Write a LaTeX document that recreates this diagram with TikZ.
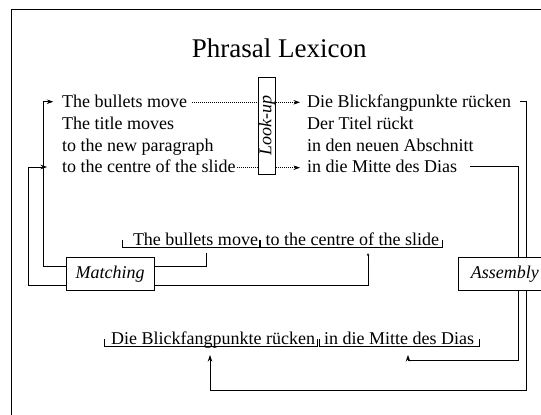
\documentclass[tikz,border=0pt]{standalone}
\usepackage{fontspec}
\setmainfont{Liberation Serif}
\usetikzlibrary{calc,arrows.meta}
\newcommand\brk[3]{\draw[brkline] ($(#1.base west)+(-#2,-5)$) -- ($(#1.base west)+(-#2,2)$) -- ($(#1.base east)+(#3,2)$) -- ($(#1.base east)+(#3,-5)$);}
\begin{document}
\begin{tikzpicture}[x=1pt,y=-1pt,
  txt/.style={font=\fontsize{18}{21.8}\selectfont, inner sep=0pt, anchor=base west},
  lbl/.style={draw, fill=white, line width=0.7pt, font=\fontsize{18}{21.8}\selectfont\itshape, inner sep=0pt},
  wire/.style={line width=0.7pt},
  brkline/.style={line width=0.6pt},
  dots/.style={line width=0.6pt, dash pattern=on 1pt off 1pt},
  tip/.style={-{Stealth[length=6.5pt,width=4.5pt]}},
  smalltip/.style={-{Stealth[length=3pt,width=2.5pt]}}
  ]
\useasboundingbox (0,0) rectangle (541,415);
\clip (0,0) rectangle (541,415);
\draw[line width=0.8pt] (11,9) rectangle (600,460);

\node[font=\fontsize{27}{32}\selectfont, anchor=base, inner sep=0pt] (title) at (279.3,57) {Phrasal Lexicon};

\node[txt] (l1) at (62,107.3) {The bullets move};
\node[txt] (l2) at (62,129.3) {The title moves};
\node[txt] (l3) at (62,151) {to the new paragraph};
\node[txt] (l4) at (62,172.7) {to the centre of the slide};

\node[txt] (r1) at (307,107.3) {Die Blickfangpunkte rücken};
\node[txt] (r2) at (307,129.3) {Der Titel rückt};
\node[txt] (r3) at (307,151) {in den neuen Abschnitt};
\node[txt] (r4) at (307,172.7) {in die Mitte des Dias};

\node[draw, line width=0.7pt, rotate=90, minimum width=97pt, minimum height=17.4pt, inner sep=0pt,
      font=\fontsize{18}{21.8}\selectfont\itshape] (lookup) at (267,125.8) {Look-up};

\node[txt] (m1) at (132.8,245) {The bullets move};
\node[txt] (m2) at (265.5,245) {to the centre of the slide};
\brk{m1}{10.4}{1}
\brk{m2}{5.2}{3}

\node[txt] (b1) at (111,344) {Die Blickfangpunkte rücken};
\node[txt] (b2) at (324,344) {in die Mitte des Dias};
\brk{b1}{6.9}{1.5}
\brk{b2}{4.3}{4.5}

% look-up dotted arrows
\coordinate (d1) at ($(l1.base east)+(5,-5)$);
\coordinate (d4) at ($(l4.base east)+(1,-5)$);
\draw[dots] (d1) -- (lookup.north |- d1);
\draw[dots] (d4) -- (lookup.north |- d4);
\draw[dots,tip] (lookup.south |- d1) -- ($(r1.base west |- d1)+(-7,0)$);
\draw[dots,tip] (lookup.south |- d4) -- ($(r4.base west |- d4)+(-7,0)$);

% assembly wires
\coordinate (rA) at ($(r1.base east)+(8.5,-6.3)$);
\coordinate (rB) at ($(r4.base east)+(12.7,-6.7)$);
\coordinate (colA) at (526.6,390);
\coordinate (colB) at (518,360);
\coordinate (b1in) at (210,355);
\coordinate (b2in) at (408,355);
\draw[wire,tip] (rA) -| (colA) -| (b1in);
\draw[wire,tip] (rB) -| (colB) -| (b2in);

% matching box and wires
\node[lbl, minimum width=88pt, minimum height=33.4pt] (match) at (110.15,274) {Matching};
\draw[wire,tip] ($(match.west)+(0,-8)$) -| ($(l1.base west)+(-18.2,-5.6)$) -- ($(l1.base west)+(-8.7,-5.6)$);
\draw[wire,tip] ($(match.west)+(0,11)$) -| ($(l4.base west)+(-33.7,-5.7)$) -- ($(l4.base west)+(-15,-5.7)$);
\draw[wire] ($(match.east)+(0,-8)$) -| ($(m1.base west)+(74,8)$);
\draw[wire,smalltip] ($(match.east)+(0,11)$) -| ($(m2.base west)+(102.5,8)$);

\node[lbl, anchor=west, minimum width=93pt, minimum height=33.4pt] (asm) at (458,274) {Assembly};
\end{tikzpicture}
\end{document}
